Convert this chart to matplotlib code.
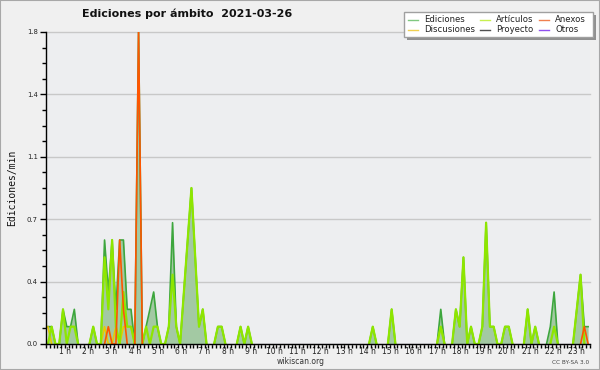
import numpy as np
import matplotlib
matplotlib.use('Agg')
import matplotlib.pyplot as plt
from matplotlib import font_manager
from matplotlib.lines import Line2D
from matplotlib.patches import Rectangle

# valores cada 10 minutos (ediciones/min), 144 intervalos del día
ediciones = [
    0.1, 0.1, 0.0, 0.0, 0.2, 0.1, 0.1, 0.2, 0.0, 0.0, 0.0, 0.0,
    0.1, 0.0, 0.0, 0.6, 0.3, 0.6, 0.2, 0.6, 0.6, 0.2, 0.2, 0.0,
    1.8, 0.0, 0.1, 0.2, 0.3, 0.1, 0.0, 0.0, 0.1, 0.7, 0.1, 0.0,
    0.3, 0.6, 0.9, 0.5, 0.1, 0.2, 0.0, 0.0, 0.0, 0.1, 0.1, 0.0,
    0.0, 0.0, 0.0, 0.1, 0.0, 0.1, 0.0, 0.0, 0.0, 0.0, 0.0, 0.0,
    0.0, 0.0, 0.0, 0.0, 0.0, 0.0, 0.0, 0.0, 0.0, 0.0, 0.0, 0.0,
    0.0, 0.0, 0.0, 0.0, 0.0, 0.0, 0.0, 0.0, 0.0, 0.0, 0.0, 0.0,
    0.0, 0.0, 0.1, 0.0, 0.0, 0.0, 0.0, 0.2, 0.0, 0.0, 0.0, 0.0,
    0.0, 0.0, 0.0, 0.0, 0.0, 0.0, 0.0, 0.0, 0.2, 0.0, 0.0, 0.0,
    0.2, 0.1, 0.5, 0.0, 0.1, 0.0, 0.0, 0.1, 0.7, 0.1, 0.1, 0.0,
    0.0, 0.1, 0.1, 0.0, 0.0, 0.0, 0.0, 0.2, 0.0, 0.1, 0.0, 0.0,
    0.0, 0.1, 0.3, 0.0, 0.0, 0.0, 0.0, 0.0, 0.2, 0.4, 0.1, 0.1,
]
articulos = [
    0.0, 0.1, 0.0, 0.0, 0.2, 0.0, 0.1, 0.1, 0.0, 0.0, 0.0, 0.0,
    0.1, 0.0, 0.0, 0.5, 0.2, 0.6, 0.1, 0.0, 0.3, 0.1, 0.1, 0.0,
    0.0, 0.0, 0.1, 0.0, 0.1, 0.1, 0.0, 0.0, 0.1, 0.4, 0.1, 0.0,
    0.3, 0.6, 0.9, 0.5, 0.1, 0.2, 0.0, 0.0, 0.0, 0.1, 0.1, 0.0,
    0.0, 0.0, 0.0, 0.1, 0.0, 0.1, 0.0, 0.0, 0.0, 0.0, 0.0, 0.0,
    0.0, 0.0, 0.0, 0.0, 0.0, 0.0, 0.0, 0.0, 0.0, 0.0, 0.0, 0.0,
    0.0, 0.0, 0.0, 0.0, 0.0, 0.0, 0.0, 0.0, 0.0, 0.0, 0.0, 0.0,
    0.0, 0.0, 0.1, 0.0, 0.0, 0.0, 0.0, 0.2, 0.0, 0.0, 0.0, 0.0,
    0.0, 0.0, 0.0, 0.0, 0.0, 0.0, 0.0, 0.0, 0.1, 0.0, 0.0, 0.0,
    0.2, 0.1, 0.5, 0.0, 0.1, 0.0, 0.0, 0.1, 0.7, 0.1, 0.1, 0.0,
    0.0, 0.1, 0.1, 0.0, 0.0, 0.0, 0.0, 0.2, 0.0, 0.1, 0.0, 0.0,
    0.0, 0.0, 0.1, 0.0, 0.0, 0.0, 0.0, 0.0, 0.2, 0.4, 0.0, 0.0,
]
discusiones = [
    0.1, 0.0, 0.0, 0.0, 0.0, 0.0, 0.0, 0.0, 0.0, 0.0, 0.0, 0.0,
    0.0, 0.0, 0.0, 0.1, 0.0, 0.0, 0.1, 0.0, 0.1, 0.1, 0.1, 0.0,
    0.0, 0.0, 0.0, 0.0, 0.0, 0.0, 0.0, 0.0, 0.0, 0.0, 0.0, 0.0,
    0.0, 0.0, 0.0, 0.0, 0.0, 0.0, 0.0, 0.0, 0.0, 0.0, 0.0, 0.0,
    0.0, 0.0, 0.0, 0.0, 0.0, 0.0, 0.0, 0.0, 0.0, 0.0, 0.0, 0.0,
    0.0, 0.0, 0.0, 0.0, 0.0, 0.0, 0.0, 0.0, 0.0, 0.0, 0.0, 0.0,
    0.0, 0.0, 0.0, 0.0, 0.0, 0.0, 0.0, 0.0, 0.0, 0.0, 0.0, 0.0,
    0.0, 0.0, 0.0, 0.0, 0.0, 0.0, 0.0, 0.0, 0.0, 0.0, 0.0, 0.0,
    0.0, 0.0, 0.0, 0.0, 0.0, 0.0, 0.0, 0.0, 0.1, 0.0, 0.0, 0.0,
    0.0, 0.0, 0.0, 0.0, 0.0, 0.0, 0.0, 0.0, 0.0, 0.0, 0.0, 0.0,
    0.0, 0.0, 0.0, 0.0, 0.0, 0.0, 0.0, 0.0, 0.0, 0.0, 0.0, 0.0,
    0.0, 0.0, 0.0, 0.0, 0.0, 0.0, 0.0, 0.0, 0.0, 0.0, 0.0, 0.0,
]
anexos = [
    0.0, 0.0, 0.0, 0.0, 0.0, 0.0, 0.0, 0.0, 0.0, 0.0, 0.0, 0.0,
    0.0, 0.0, 0.0, 0.0, 0.1, 0.0, 0.0, 0.6, 0.2, 0.0, 0.0, 0.0,
    1.8, 0.0, 0.0, 0.0, 0.0, 0.0, 0.0, 0.0, 0.0, 0.0, 0.0, 0.0,
    0.0, 0.0, 0.0, 0.0, 0.0, 0.0, 0.0, 0.0, 0.0, 0.0, 0.0, 0.0,
    0.0, 0.0, 0.0, 0.0, 0.0, 0.0, 0.0, 0.0, 0.0, 0.0, 0.0, 0.0,
    0.0, 0.0, 0.0, 0.0, 0.0, 0.0, 0.0, 0.0, 0.0, 0.0, 0.0, 0.0,
    0.0, 0.0, 0.0, 0.0, 0.0, 0.0, 0.0, 0.0, 0.0, 0.0, 0.0, 0.0,
    0.0, 0.0, 0.0, 0.0, 0.0, 0.0, 0.0, 0.0, 0.0, 0.0, 0.0, 0.0,
    0.0, 0.0, 0.0, 0.0, 0.0, 0.0, 0.0, 0.0, 0.0, 0.0, 0.0, 0.0,
    0.0, 0.0, 0.0, 0.0, 0.0, 0.0, 0.0, 0.0, 0.0, 0.0, 0.0, 0.0,
    0.0, 0.0, 0.0, 0.0, 0.0, 0.0, 0.0, 0.0, 0.0, 0.0, 0.0, 0.0,
    0.0, 0.0, 0.0, 0.0, 0.0, 0.0, 0.0, 0.0, 0.0, 0.0, 0.1, 0.0,
]
# Proyecto y Otros: sin ediciones en todo el día
proyecto = [0.0] * 144
otros = [0.0] * 144

y_ticks = [0.0, 0.36, 0.72, 1.08, 1.44, 1.8]
y_labels = ['0.0', '0.4', '0.7', '1.1', '1.4', '1.8']
horas = list(range(1, 24))

titulo = 'Ediciones por ámbito  2021-03-26'

# fuente estrecha si existe, si no DejaVu reducida
nombres = {f.name for f in font_manager.fontManager.ttflist}
if 'Liberation Sans Narrow' in nombres:
    FUENTE, s = 'Liberation Sans Narrow', 1.0
else:
    FUENTE, s = 'DejaVu Sans', 0.76
plt.rcParams['font.family'] = [FUENTE, 'DejaVu Sans']

W, H = 600, 370
fig = plt.figure(figsize=(6, 3.7), dpi=100, facecolor='#f0f0f0')
ax = fig.add_axes([46 / W, 26 / H, 544 / W, 312 / H])
ax.set_facecolor('#edeef0')


def fpx(x, y):
    return x / W, 1 - y / H


def sin_ceros(v):
    # oculta los tramos planos en cero para que no pinten sobre el eje
    v = np.asarray(v, float)
    z = v == 0
    izq = np.r_[True, z[:-1]]
    der = np.r_[z[1:], True]
    return np.where(z & izq & der, np.nan, v)


x = (np.arange(144) + 0.5) / 6

ax.fill_between(x, 0, ediciones, color='#a3c9a3', lw=0, zorder=1)
ax.plot(x, sin_ceros(ediciones), color='#3da63d', lw=1.2, zorder=2)
ax.plot(x, sin_ceros(discusiones), color='#e8cc00', lw=1.2, zorder=3)
ax.plot(x, sin_ceros(articulos), color='#8ee600', lw=1.6, zorder=4)
ax.plot(x, sin_ceros(proyecto), color='#505050', lw=1.2, zorder=5)
ax.plot(x, sin_ceros(anexos), color='#ff5500', lw=1.2, zorder=6)
ax.plot(x, sin_ceros(otros), color='#8a3ff0', lw=1.2, zorder=7)

ax.set_xlim(0, 24)
ax.set_ylim(0, 1.8)

for lado in ['top', 'right']:
    ax.spines[lado].set_visible(False)
for lado in ['left', 'bottom']:
    ax.spines[lado].set_color('black')
    ax.spines[lado].set_linewidth(1)
    ax.spines[lado].set_zorder(10)

ax.set_yticks(y_ticks)
ax.set_yticklabels(y_labels)
ax.set_yticks(np.arange(0, 21) * 0.09, minor=True)
ax.yaxis.grid(True, color='#c8c8c8', lw=1)
ax.set_axisbelow(True)
for gl in ax.get_ygridlines():
    gl.set_clip_on(False)
ax.tick_params(axis='y', which='major', length=4, width=1, pad=2,
               labelsize=6.5 * s, labelcolor='#222222')
ax.tick_params(axis='y', which='minor', length=3, width=1)

# etiquetas de hora algo desplazadas respecto a las marcas, como en el original
pos_horas = [h * 1.0262 - 0.19 for h in horas]
ax.set_xticks(pos_horas)
ax.set_xticklabels([f'{h} h' for h in horas])
ax.set_xticks(np.arange(0, 145) / 6, minor=True)
ax.tick_params(axis='x', which='major', length=0, pad=2,
               labelsize=7.2 * s, labelcolor='#222222')
ax.tick_params(axis='x', which='minor', length=3, width=1)

fig.text(*fpx(187, 14), titulo, ha='center', va='center',
         fontsize=10.5 * s, fontweight='bold', color='#111111')
fig.text(*fpx(12, 188), 'Ediciones/min', rotation=90, ha='center', va='center',
         fontsize=7, family='DejaVu Sans Mono', color='#111111')
fig.text(*fpx(301, 362), 'wikiscan.org', ha='center', va='center',
         fontsize=7.2 * s, color='#333333')
fig.text(*fpx(589, 362.5), 'CC BY-SA 3.0', ha='right', va='center',
         fontsize=5.5 * s, color='#444444')

# leyenda dibujada a mano con sombra
bx0, by0, bx1, by1 = 404, 12, 593, 37
fig.patches.append(Rectangle(fpx(bx0 + 3, by1 + 3), (bx1 - bx0) / W, (by1 - by0) / H,
                             transform=fig.transFigure, facecolor='#909090',
                             edgecolor='none', zorder=20))
fig.patches.append(Rectangle(fpx(bx0, by1), (bx1 - bx0) / W, (by1 - by0) / H,
                             transform=fig.transFigure, facecolor='white',
                             edgecolor='#a0a0a0', lw=1, zorder=21))
entradas = [
    ('Ediciones', '#80c880', 408, 19.5),
    ('Discusiones', '#f0d050', 408, 29.5),
    ('Artículos', '#c8f050', 480, 19.5),
    ('Proyecto', '#505050', 480, 29.5),
    ('Anexos', '#f08050', 539, 19.5),
    ('Otros', '#9050f0', 539, 29.5),
]
for nombre, color, lx, ly in entradas:
    (x0, y0), (x1, _) = fpx(lx, ly), fpx(lx + 10, ly)
    fig.lines.append(Line2D([x0, x1], [y0, y0], transform=fig.transFigure,
                            color=color, lw=1, zorder=22))
    fig.text(*fpx(lx + 16, ly), nombre, ha='left', va='center',
             fontsize=8 * s, color='#222222', zorder=23)

fig.patches.append(Rectangle((0, 0), 1, 1, transform=fig.transFigure, fill=False,
                             edgecolor='#a8a8a8', lw=1.5, zorder=30))

fig.savefig('out.png', dpi=100, facecolor=fig.get_facecolor())
